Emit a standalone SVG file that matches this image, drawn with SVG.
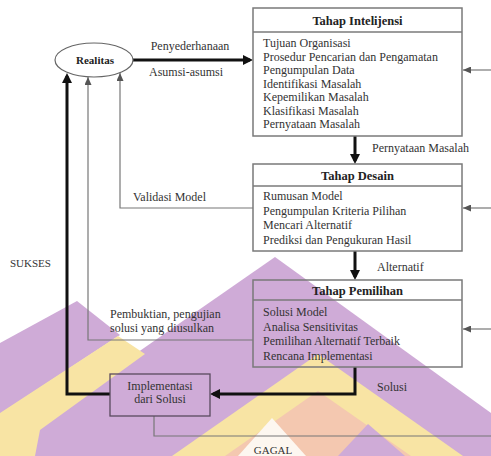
<svg xmlns="http://www.w3.org/2000/svg" width="491" height="456" viewBox="0 0 491 456">
<style>
  text { font-family: "Liberation Serif", "Times New Roman", serif; fill: #333; font-size: 12px; }
  .title { font-weight: bold; font-size: 12.5px; text-anchor: middle; fill: #222; }
  .ctr { text-anchor: middle; }
  .box { fill: none; stroke: #7a7a7a; stroke-width: 1.5; }
  .thin { fill: none; stroke: #777; stroke-width: 1.2; }
  .thick { fill: none; stroke: #111; stroke-width: 3; }
</style>
<defs>
  <marker id="ah" markerUnits="userSpaceOnUse" markerWidth="10" markerHeight="10" refX="7" refY="5" orient="auto">
    <path d="M0,0 L10,5 L0,10 z" fill="#111"/>
  </marker>
  <marker id="at" markerUnits="userSpaceOnUse" markerWidth="8" markerHeight="7" refX="8" refY="3.5" orient="auto">
    <path d="M0,0 L8,3.5 L0,7 z" fill="#555"/>
  </marker>
</defs>
<rect width="491" height="456" fill="#fff"/>
<g id="watermark">
  <polygon points="0,448 275,257 491,413 491,456 0,456" fill="#cfabd7"/>
  <polygon points="0,343 77,301 120,335 0,414" fill="#cfabd7"/>
  <polygon points="0,413 118,336 145,354 40,430 35,456 0,456" fill="#f8e4a4"/>
  <polygon points="172,456 318,354 463,456" fill="#f8e4a4"/>
  <polygon points="225,456 318,391 411,456" fill="#f4c8b0"/>
  <polygon points="238,456 272,418 306,456" fill="#fdf7f0"/>
  <polygon points="338,456 368,424 405,456" fill="#cfabd7"/>
</g>
<g id="connectors">
  <path class="thick" d="M133,60 H250" marker-end="url(#ah)"/>
  <path class="thick" d="M355,136 V161" marker-end="url(#ah)"/>
  <path class="thick" d="M355,251 V277" marker-end="url(#ah)"/>
  <path class="thick" d="M355,367 V394 H213" marker-end="url(#ah)"/>
  <path class="thick" d="M110,394 H67 V76" marker-end="url(#ah)"/>
  <path class="thin" d="M253,208 H120 V73" marker-end="url(#at)"/>
  <path class="thin" d="M253,340 H88 V77" marker-end="url(#at)"/>
  <path class="thin" d="M154,416 V436 H491"/>
  <path class="thin" d="M491,70 H463" marker-end="url(#at)"/>
  <path class="thin" d="M491,208 H463" marker-end="url(#at)"/>
  <path class="thin" d="M491,329 H463" marker-end="url(#at)"/>
  <text x="190" y="50" class="ctr">Penyederhanaan</text>
  <text x="186" y="76" class="ctr">Asumsi-asumsi</text>
  <text x="372" y="152">Pernyataan Masalah</text>
  <text x="377" y="271">Alternatif</text>
  <text x="133" y="201">Validasi Model</text>
  <text x="110" y="318">Pembuktian, pengujian</text>
  <text x="110" y="332">solusi yang diusulkan</text>
  <text x="377" y="391">Solusi</text>
  <text x="10" y="267" style="font-size:11px">SUKSES</text>
  <text x="273" y="454" class="ctr" style="font-size:11px">GAGAL</text>
</g>
<g id="realitas">
  <ellipse cx="94" cy="60" rx="39" ry="17" fill="none" stroke="#666" stroke-width="1.2"/>
  <text x="95" y="64" class="title" style="font-size:11px">Realitas</text>
</g>
<g id="intelijensi">
  <rect class="box" x="253" y="8" width="209" height="128"/>
  <line x1="253" y1="32" x2="462" y2="32" stroke="#7a7a7a" stroke-width="1.5"/>
  <text x="357.5" y="25" class="title">Tahap Intelijensi</text>
  <text x="263" y="47">Tujuan Organisasi</text>
  <text x="263" y="60.5">Prosedur Pencarian dan Pengamatan</text>
  <text x="263" y="74">Pengumpulan Data</text>
  <text x="263" y="87.5">Identifikasi Masalah</text>
  <text x="263" y="101">Kepemilikan Masalah</text>
  <text x="263" y="114.5">Klasifikasi Masalah</text>
  <text x="263" y="128">Pernyataan Masalah</text>
</g>
<g id="desain">
  <rect class="box" x="253" y="164" width="209" height="87"/>
  <line x1="253" y1="186" x2="462" y2="186" stroke="#7a7a7a" stroke-width="1.5"/>
  <text x="357.5" y="179.5" class="title">Tahap Desain</text>
  <text x="263" y="200">Rumusan Model</text>
  <text x="263" y="214.5">Pengumpulan Kriteria Pilihan</text>
  <text x="263" y="229">Mencari Alternatif</text>
  <text x="263" y="243.5">Prediksi dan Pengukuran Hasil</text>
</g>
<g id="pemilihan">
  <rect class="box" x="253" y="280" width="209" height="87"/>
  <line x1="253" y1="300" x2="462" y2="300" stroke="#7a7a7a" stroke-width="1.5"/>
  <text x="357.5" y="295" class="title">Tahap Pemilihan</text>
  <text x="263" y="316">Solusi Model</text>
  <text x="263" y="330.5">Analisa Sensitivitas</text>
  <text x="263" y="345">Pemilihan Alternatif Terbaik</text>
  <text x="263" y="359.5">Rencana Implementasi</text>
</g>
<g id="implementasi">
  <rect x="110" y="374" width="100" height="42" fill="none" stroke="#5a4a5e" stroke-width="1.3"/>
  <text x="160" y="390" class="ctr">Implementasi</text>
  <text x="160" y="403" class="ctr">dari Solusi</text>
</g>
</svg>
